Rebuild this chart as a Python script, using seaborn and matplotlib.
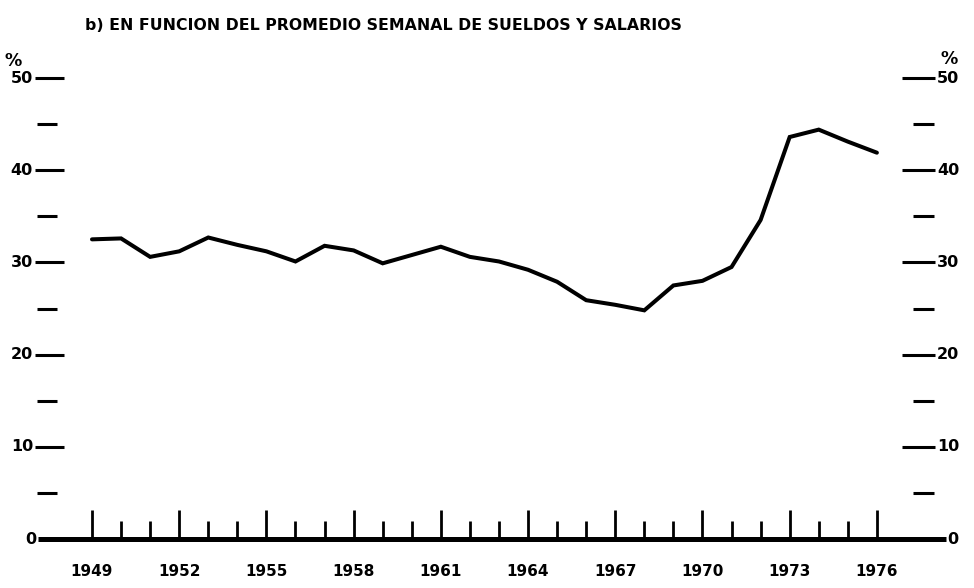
import numpy as np
import pandas as pd
import matplotlib
matplotlib.use("Agg")
import matplotlib.pyplot as plt
import seaborn as sns

# ---- data ----
years = list(range(1949, 1977))
values = [32.5, 32.6, 30.6, 31.2, 32.7, 31.9, 31.2, 30.1, 31.8, 31.3,
          29.9, 30.8, 31.7, 30.6, 30.1, 29.2, 27.9, 25.9, 25.4, 24.8,
          27.5, 28.0, 29.5, 34.6, 43.6, 44.4, 43.1, 41.9]
year_labels = [1949, 1952, 1955, 1958, 1961, 1964, 1967, 1970, 1973, 1976]
y_major = [0, 10, 20, 30, 40, 50]
y_minor = [5, 15, 25, 35, 45]
title = "b) EN FUNCION DEL PROMEDIO SEMANAL DE SUELDOS Y SALARIOS"

sns.set_style("white")
plt.rcParams['font.family'] = ['DejaVu Sans']

W, H = 974, 588
fig = plt.figure(figsize=(W / 100, H / 100), dpi=100)
ax = fig.add_axes([0, 0, 1, 1])

# pixel geometry of the reference
X0, PXY = 92.0, 29.07     # pixel of 1949, px per year
Y0, PYU = 539.0, 9.22     # pixel of 0, px per unit
ax.set_xlim(1949 - X0 / PXY, 1949 + (W - X0) / PXY)
ax.set_ylim(-(H - Y0) / PYU, Y0 / PYU)
ax.axis("off")

def px(p):
    return 1949 + (p - X0) / PXY

def py(p):
    return (Y0 - p) / PYU

df = pd.DataFrame({"year": years, "value": values})
sns.lineplot(data=df, x="year", y="value", ax=ax, color="black", lw=2.9,
             solid_joinstyle="miter")

# baseline
ax.hlines(0, px(38), px(946), color="black", lw=3.6)
# year ticks
for yr in years:
    h = 3.1 if (yr - 1949) % 3 == 0 else 2.0
    ax.vlines(yr, 0, h, color="black", lw=2.0)

fkw = dict(fontweight="bold", color="black")
for yr in year_labels:
    ax.text(yr, py(571), str(yr), ha="center", va="center", fontsize=11, **fkw)

# left and right y ticks
for v in y_major:
    if v != 0:
        ax.hlines(v, px(35), px(64), color="black", lw=2.2)
        ax.hlines(v, px(902), px(935), color="black", lw=2.2)
        ax.text(px(33), v, str(v), ha="right", va="center", fontsize=11.5, **fkw)
        ax.text(px(937), v, str(v), ha="left", va="center", fontsize=11.5, **fkw)
for v in y_minor:
    ax.hlines(v, px(37), px(57), color="black", lw=2.2)
    ax.hlines(v, px(913), px(934), color="black", lw=2.2)
ax.text(px(36), 0, "0", ha="right", va="center", fontsize=11.5, **fkw)
ax.text(px(947), 0, "0", ha="left", va="center", fontsize=11.5, **fkw)

ax.text(px(13), py(61), "%", ha="center", va="center", fontsize=12.5, **fkw)
ax.text(px(949), py(59), "%", ha="center", va="center", fontsize=12.5, **fkw)

ax.text(px(85), py(25), title, ha="left", va="center", fontsize=11.3, **fkw)

fig.savefig("out.png", dpi=100)
